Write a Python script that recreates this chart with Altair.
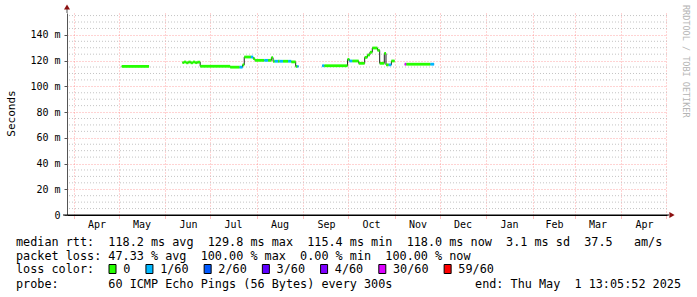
import altair as alt
import pandas as pd

# ---------------- data ----------------
seg_start = [
    "2024-05-03T00:00:00",
    "2024-06-12T12:00:00", "2024-06-13T12:00:00", "2024-06-15T00:00:00", "2024-06-16T12:00:00",
    "2024-06-18T00:00:00", "2024-06-19T12:00:00", "2024-06-21T00:00:00", "2024-06-22T12:00:00",
    "2024-06-24T08:00:00", "2024-07-14T08:00:00", "2024-07-20T14:00:00", "2024-07-22T14:00:00",
    "2024-07-23T17:00:00", "2024-07-28T03:00:00", "2024-07-29T16:00:00", "2024-07-30T19:00:00",
    "2024-08-06T03:00:00", "2024-08-08T14:00:00", "2024-08-10T19:00:00", "2024-08-11T22:00:00",
    "2024-08-13T00:00:00", "2024-08-15T07:00:00", "2024-08-16T07:00:00", "2024-08-18T14:00:00",
    "2024-08-21T22:00:00", "2024-08-24T02:00:00", "2024-08-27T00:00:00", "2024-08-28T02:00:00",
    "2024-09-13T16:00:00", "2024-09-15T04:00:00", "2024-09-30T14:00:00", "2024-10-01T19:00:00",
    "2024-10-03T19:00:00", "2024-10-08T00:00:00", "2024-10-12T00:00:00", "2024-10-13T19:00:00",
    "2024-10-15T12:00:00", "2024-10-17T02:00:00", "2024-10-20T12:00:00", "2024-10-22T00:00:00",
    "2024-10-25T02:00:00", "2024-10-26T05:00:00", "2024-10-28T00:00:00", "2024-10-29T19:00:00",
    "2024-11-07T16:00:00", "2024-11-08T19:00:00", "2024-11-24T19:00:00",
]
seg_end = [
    "2024-05-21T06:00:00",
    "2024-06-13T12:00:00", "2024-06-15T00:00:00", "2024-06-16T12:00:00", "2024-06-18T00:00:00",
    "2024-06-19T12:00:00", "2024-06-21T00:00:00", "2024-06-22T12:00:00", "2024-06-24T08:00:00",
    "2024-07-14T08:00:00", "2024-07-20T14:00:00", "2024-07-22T14:00:00", "2024-07-23T17:00:00",
    "2024-07-28T03:00:00", "2024-07-29T16:00:00", "2024-07-30T19:00:00", "2024-08-06T03:00:00",
    "2024-08-08T14:00:00", "2024-08-10T19:00:00", "2024-08-11T22:00:00", "2024-08-13T00:00:00",
    "2024-08-15T07:00:00", "2024-08-16T07:00:00", "2024-08-18T14:00:00", "2024-08-21T22:00:00",
    "2024-08-24T02:00:00", "2024-08-27T00:00:00", "2024-08-28T02:00:00", "2024-08-28T22:00:00",
    "2024-09-15T04:00:00", "2024-09-30T14:00:00", "2024-10-01T19:00:00", "2024-10-03T19:00:00",
    "2024-10-08T00:00:00", "2024-10-12T00:00:00", "2024-10-13T19:00:00", "2024-10-15T12:00:00",
    "2024-10-17T02:00:00", "2024-10-20T12:00:00", "2024-10-22T00:00:00", "2024-10-25T02:00:00",
    "2024-10-26T05:00:00", "2024-10-28T00:00:00", "2024-10-29T19:00:00", "2024-10-31T23:00:00",
    "2024-11-08T19:00:00", "2024-11-24T19:00:00", "2024-11-27T07:00:00",
]
seg_ms = [
    115.5,
    118.5, 118.9, 118.3, 118.9, 118.3, 118.9, 118.4, 118.8,
    115.6, 114.9, 114.9, 116.7, 122.8, 122.8, 121.5, 120.2,
    120.2, 120.2, 122.3, 119.5, 119.5, 119.5, 119.5, 119.5,
    119.5, 119.0, 115.5, 115.5,
    116.0, 116.0, 121.0, 119.7, 119.7, 117.9, 122.5, 124.4,
    126.5, 129.8, 128.0, 117.9, 125.6, 116.7, 116.7, 119.7,
    117.2, 117.2, 117.2,
]
seg_loss = [
    "0",
    "0", "0", "0", "0", "0", "0", "0", "0",
    "0", "0", "1/60", "0", "0", "1/60", "0", "0",
    "1/60", "0", "0", "0", "1/60", "0", "1/60", "0",
    "1/60", "0", "0", "1/60",
    "1/60", "0", "0", "1/60", "0", "0", "0", "0",
    "0", "0", "0", "0", "0", "0", "1/60", "0",
    "30/60", "0", "1/60",
]
seg_run = [1] + [2] * 28 + [3] * 16 + [4] * 3

loss_labels = ["0", "1/60", "2/60", "3/60", "4/60", "30/60", "59/60"]
loss_colors = ["#26ff00", "#00b8ff", "#0059ff", "#5e00ff", "#7e00ff", "#dd00ff", "#ff0000"]

month_names = ["Apr", "May", "Jun", "Jul", "Aug", "Sep", "Oct", "Nov", "Dec",
               "Jan", "Feb", "Mar", "Apr"]
month_mid = ["2024-04-16T12:00:00", "2024-05-16T12:00:00", "2024-06-16T12:00:00",
             "2024-07-16T12:00:00", "2024-08-16T12:00:00", "2024-09-16T12:00:00",
             "2024-10-16T12:00:00", "2024-11-16T12:00:00", "2024-12-16T12:00:00",
             "2025-01-16T12:00:00", "2025-02-15T12:00:00", "2025-03-16T12:00:00",
             "2025-04-16T12:00:00"]
month_starts = [(2024, 4), (2024, 5), (2024, 6), (2024, 7), (2024, 8), (2024, 9),
                (2024, 10), (2024, 11), (2024, 12), (2025, 1), (2025, 2), (2025, 3),
                (2025, 4), (2025, 5)]

y_major = [0, 20, 40, 60, 80, 100, 120, 140]
y_minor = [5, 10, 15, 25, 30, 35, 45, 50, 55, 65, 70, 75, 85, 90, 95,
           105, 110, 115, 125, 130, 135, 145, 150, 155]

line1 = "median rtt:  118.2 ms avg  129.8 ms max  115.4 ms min  118.0 ms now  3.1 ms sd  37.5   am/s"
line2 = "packet loss: 47.33 % avg  100.00 % max  0.00 % min  100.00 % now"
line3 = "loss color:"
line4 = "probe:       60 ICMP Echo Pings (56 Bytes) every 300s"
line4_end = "end: Thu May  1 13:05:52 2025"

# ---------------- layout ----------------
W, H = 600, 202
PAD_L, PAD_T = 67, 13
MONO = "DejaVu Sans Mono"
CW = 7.1            # legend char advance (px)
LEG_X0 = 16 - PAD_L
NB = "\u00a0"

def nb(s):
    return s.replace(" ", NB)

x_scale = alt.Scale(
    domain=[alt.DateTime(year=2024, month=3, date=27, hours=13, minutes=5, seconds=52),
            alt.DateTime(year=2025, month=5, date=1, hours=13, minutes=5, seconds=52)])
y_scale = alt.Scale(domain=[0, 157], nice=False, zero=True)

segs = pd.DataFrame({"start": seg_start, "end": seg_end, "ms": seg_ms,
                     "loss": seg_loss, "run": seg_run})
pts = []
for r in sorted(set(seg_run)):
    sub = segs[segs.run == r]
    for _, row in sub.iterrows():
        pts.append({"t": row.start, "ms": row.ms, "run": r})
    last = sub.iloc[-1]
    pts.append({"t": last.end, "ms": last.ms, "run": r})
pts = pd.DataFrame(pts)

months_df = pd.DataFrame({"mid": month_mid, "lab": month_names})
one = pd.DataFrame({"a": [0]})

x_axis = alt.Axis(
    values=[alt.DateTime(year=y, month=m, date=1) for y, m in month_starts],
    grid=True, gridColor="#ff6060", gridOpacity=0.55, gridDash=[1, 2], gridWidth=1,
    labels=False, ticks=True, tickColor="#ff8080", tickSize=3, tickDash=[1, 1],
    domain=True, domainColor="#000000", domainWidth=1, title=None)
y_axis = alt.Axis(
    values=y_major, grid=True, gridColor="#ff6060", gridOpacity=0.55, gridDash=[1, 2],
    labelExpr="datum.value == 0 ? '0" + NB + NB + "' : datum.value + '" + NB + "m'",
    labelFont=MONO, labelFontSize=10, labelColor="#000000", labelPadding=4,
    ticks=True, tickSize=3, tickColor="#555555", domainColor="#555555",
    title="Seconds", titleFont=MONO, titleFontSize=11, titleFontWeight="normal",
    titleColor="#000000", titleAngle=-90, titleX=11 - PAD_L, titleY=113 - PAD_T,
    titleAlign="center", titleBaseline="middle")

minor = alt.Chart(pd.DataFrame({"v": y_minor})).mark_rule(
    color="#c4c4c4", strokeDash=[1, 2], strokeWidth=1
).encode(y=alt.Y("v:Q", scale=y_scale, axis=y_axis))

black = alt.Chart(pts).mark_line(
    interpolate="step-after", color="#202020", strokeWidth=1
).encode(
    x=alt.X("t:T", scale=x_scale, axis=x_axis),
    y=alt.Y("ms:Q", scale=y_scale, axis=y_axis),
    detail="run:N",
)

colored = alt.Chart(segs).mark_rule(strokeWidth=2.8).encode(
    x=alt.X("start:T", scale=x_scale, axis=x_axis),
    x2="end:T",
    y=alt.Y("ms:Q", scale=y_scale, axis=y_axis),
    color=alt.Color("loss:N", scale=alt.Scale(domain=loss_labels, range=loss_colors),
                    legend=None),
)

months = alt.Chart(months_df).mark_text(
    font=MONO, fontSize=10, baseline="middle", align="center", color="#000000"
).encode(x=alt.X("mid:T", scale=x_scale, axis=x_axis), y=alt.value(H + 10), text="lab:N")

y_ext = alt.Chart(one).mark_rule(color="#555555", strokeWidth=1).encode(
    x=alt.value(0), y=alt.value(-6), y2=alt.value(0))
x_ext = alt.Chart(one).mark_rule(color="#000000", strokeWidth=1).encode(
    x=alt.value(-4), x2=alt.value(W + 2), y=alt.value(H))

arrow_up = alt.Chart(one).mark_point(
    shape="triangle-up", filled=True, color="#8b1010", size=36, opacity=1
).encode(x=alt.value(0), y=alt.value(-6))
arrow_right = alt.Chart(one).mark_point(
    shape="triangle-right", filled=True, color="#8b1010", size=36, opacity=1
).encode(x=alt.value(W + 5), y=alt.value(H))

watermark = alt.Chart(one).mark_text(
    text="RRDTOOL / TOBI OETIKER", font=MONO, fontSize=8.5, angle=90,
    align="left", baseline="middle", color="#b4b4b4"
).encode(x=alt.value(686 - PAD_L), y=alt.value(5 - PAD_T))

def txt(s, x, y, align="left"):
    return alt.Chart(one).mark_text(
        text=nb(s), font=MONO, fontSize=11.8, align=align, baseline="middle",
        color="#000000"
    ).encode(x=alt.value(x), y=alt.value(y))

t1 = txt(line1, LEG_X0, 241.5 - PAD_T)
t2 = txt(line2, LEG_X0, 255.5 - PAD_T)
t3 = txt(line3, LEG_X0, 269.3 - PAD_T)
t4 = txt(line4, LEG_X0, 283.5 - PAD_T)
t5 = txt(line4_end, 681 - PAD_L, 283.5 - PAD_T, align="right")

# legend squares + labels, one small layer per entry
legend_layers = []
n = 13.1
for lab, col in zip(loss_labels, loss_colors):
    sx = 16 + n * CW - PAD_L
    lx = 16 + (n + 2) * CW - PAD_L
    legend_layers.append(
        alt.Chart(one).mark_rect(fill=col, stroke="#000000", strokeWidth=1).encode(
            x=alt.value(sx), x2=alt.value(sx + 7),
            y=alt.value(264.5 - PAD_T), y2=alt.value(273.5 - PAD_T)))
    legend_layers.append(txt(lab, lx, 269.3 - PAD_T))
    n = n + 2 + len(lab) + 2.2

chart = alt.layer(
    minor, black, colored, months, y_ext, x_ext, arrow_up, arrow_right, watermark,
    t1, t2, t3, t4, t5, *legend_layers
).properties(
    width=W, height=H,
    autosize=alt.AutoSizeParams(type="none"),
    padding={"left": PAD_L, "top": PAD_T, "right": 697 - PAD_L - W, "bottom": 297 - PAD_T - H},
    background="#ffffff",
).configure_view(stroke=None)

chart.save("out.html", embed_options={"renderer": "svg", "actions": False})
